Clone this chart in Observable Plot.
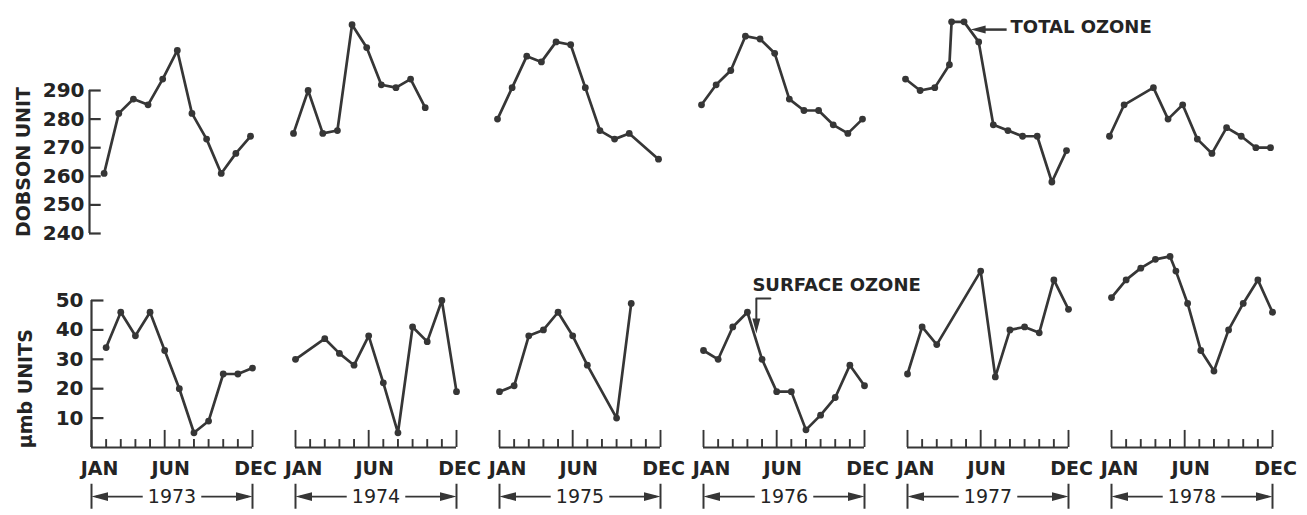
<!DOCTYPE html>
<html><head><meta charset="utf-8">
<script src="https://cdn.jsdelivr.net/npm/d3@7"></script>
<script src="https://cdn.jsdelivr.net/npm/@observablehq/plot@0.6"></script>
<style>body{margin:0;background:#fff;} #chart svg{display:block}</style>
</head><body><div id="chart"></div>
<script>
// ---- data ----
const years = [1973, 1974, 1975, 1976, 1977, 1978];

// Total ozone (Dobson units): month index (0 = Jan) and value
const totalMonths = [
  [1,2,3,4,5,6,7,8,9,10,11],
  [0,1,2,3,4,5,6,7,8,9],
  [0,1,2,3,4,5,6,7,8,9,11],
  [0,1,2,3,4,5,6,7,8,9,10,11],
  [0,1,2,3,3.15,4,5,6,7,8,9,10,11],
  [0,1,3,4,5,6,7,8,9,10,11]
];
const totalValues = [
  [261, 282, 287, 285, 294, 304, 282, 273, 261, 268, 274],
  [275, 290, 275, 276, 313, 305, 292, 291, 294, 284],
  [280, 291, 302, 300, 307, 306, 291, 276, 273, 275, 266],
  [285, 292, 297, 309, 308, 303, 287, 283, 283, 278, 275, 280],
  [294, 290, 291, 299, 314, 314, 307, 278, 276, 274, 274, 258, 269],
  [274, 285, 291, 280, 285, 273, 268, 277, 274, 270, 270]
];

// Surface ozone (µmb units)
const surfaceMonths = [
  [1,2,3,4,5,6,7,8,9,10,11],
  [0,2,3,4,5,6,7,8,9,10,11],
  [0,1,2,3,4,5,6,8,9],
  [0,1,2,3,4,5,6,7,8,9,10,11],
  [0,1,2,5,6,7,8,9,10,11],
  [0,1,2,3,4,4.4,5.2,6.1,7,8,9,10,11]
];
const surfaceValues = [
  [34, 46, 38, 46, 33, 20, 5, 9, 25, 25, 27],
  [30, 37, 32, 28, 38, 22, 5, 41, 36, 50, 19],
  [19, 21, 38, 40, 46, 38, 28, 10, 49],
  [33, 30, 41, 46, 30, 19, 19, 6, 11, 17, 28, 21],
  [25, 41, 35, 60, 24, 40, 41, 39, 57, 47],
  [51, 57, 61, 64, 65, 60, 49, 33, 26, 40, 49, 57, 46]
];

const totalTicks = [240, 250, 260, 270, 280, 290];
const surfaceTicks = [10, 20, 30, 40, 50];
const monthTicks = [0,1,2,3,4,5,6,7,8,9,10,11];
const majorMonths = [0, 5, 11];
const monthNames = ["JAN", "JUN", "DEC"];
const totalTitle = "DOBSON UNIT";
const surfaceTitle = "\u03bcmb UNITS";
const totalNote = "TOTAL OZONE";
const surfaceNote = "SURFACE OZONE";

// ---- derived tables ----
const totalRows = years.flatMap((year, i) => totalMonths[i].map((m, j) => ({year, month: m, value: totalValues[i][j]})));
const surfaceRows = years.flatMap((year, i) => surfaceMonths[i].map((m, j) => ({year, month: m, value: surfaceValues[i][j]})));
const firstYear = [{year: years[0]}];
const totalTickRows = totalTicks.map(v => ({year: years[0], v}));
const surfaceTickRows = surfaceTicks.map(v => ({year: years[0], v}));
const monthTickRows = years.flatMap(year => monthTicks.map(m => ({year, m, major: majorMonths.includes(m)})));
const yearRows = years.map(year => ({year}));

const ink = "#363636";
const txt = "#242424";
const font = "'DejaVu Sans', sans-serif";
const W = 1307;

// filled drafting arrowhead, tip at origin, pointing up
const head = {draw(ctx, size) {
  const r = Math.sqrt(size / Math.PI);
  ctx.moveTo(0, 0); ctx.lineTo(r * 0.8, r * 3); ctx.lineTo(-r * 0.8, r * 3); ctx.closePath();
}};

const fxOpts = {domain: years, paddingInner: 0.212, paddingOuter: 0, axis: null, label: null};

// ---- top: total ozone ----
const topPlot = Plot.plot({
  width: W, height: 245,
  marginLeft: 88.1, marginRight: 36.9, marginTop: 0, marginBottom: 0,
  style: {fontFamily: font, background: "white", display: "block"},
  fx: fxOpts,
  x: {domain: [0, 11], axis: null},
  y: {domain: [240, 290], range: [233, 90], axis: null},
  marks: [
    Plot.ruleX(firstYear, {fx: "year", x: 0, y1: 240, y2: 290, stroke: ink, strokeWidth: 2.2}),
    Plot.ruleY(totalTickRows, {fx: "year", y: "v", x1: 0, x2: 0.8, stroke: ink, strokeWidth: 2.2}),
    Plot.text(totalTickRows, {fx: "year", x: 0, y: "v", text: d => String(d.v), textAnchor: "end", dx: -5, fontSize: 20, fontWeight: "bold", fill: txt}),
    Plot.text(firstYear, {fx: "year", x: 0, y: 265, dx: -66, rotate: -90, text: () => totalTitle, fontSize: 19, fontWeight: "bold", fill: txt}),
    Plot.line(totalRows, {fx: "year", x: "month", y: "value", stroke: ink, strokeWidth: 2.7}),
    Plot.dot(totalRows, {fx: "year", x: "month", y: "value", r: 3.4, fill: ink}),
    // annotation
    Plot.text([{year: 1977}], {fx: "year", x: 7.18, y: 312, text: () => totalNote, textAnchor: "start", fontSize: 18, fontWeight: "bold", fill: txt}),
    Plot.link([{year: 1977}], {fx: "year", x1: 6.91, x2: 5.0, y1: 311.3, y2: 311.3, stroke: ink, strokeWidth: 2.5}),
    Plot.dot([{year: 1977}], {fx: "year", x: 4.45, y: 311.3, symbol: head, r: 5, rotate: -90, fill: ink})
  ]
});

// ---- bottom: surface ozone ----
const botPlot = Plot.plot({
  width: W, height: 270,
  marginLeft: 90.6, marginRight: 34.5, marginTop: 0, marginBottom: 0,
  style: {fontFamily: font, background: "white", display: "block"},
  fx: fxOpts,
  x: {domain: [0, 11], axis: null},
  y: {domain: [0, 50], range: [202, 55], axis: null},
  marks: [
    // y axis (first panel)
    Plot.ruleX(firstYear, {fx: "year", x: 0, y1: 0, y2: 50, stroke: ink, strokeWidth: 2.2}),
    Plot.ruleY(surfaceTickRows, {fx: "year", y: "v", x1: 0, x2: 0.85, stroke: ink, strokeWidth: 2.2}),
    Plot.text(surfaceTickRows, {fx: "year", x: 0, y: "v", text: d => String(d.v), textAnchor: "end", dx: -8, fontSize: 20, fontWeight: "bold", fill: txt}),
    Plot.text(firstYear, {fx: "year", x: 0, y: 20, dx: -66, rotate: -90, text: () => surfaceTitle, fontSize: 19, fontWeight: "bold", fill: txt}),
    // month axis in every panel
    Plot.ruleY([0], {stroke: ink, strokeWidth: 2.2}),
    Plot.ruleX(monthTickRows, {fx: "year", x: "m", y1: 0, y2: d => d.major ? 5.8 : 2.7, stroke: ink, strokeWidth: 1.9}),
    Plot.text(yearRows, {fx: "year", x: majorMonths[0], y: 0, dy: 21, dx: 8, text: () => monthNames[0], fontSize: 19, fontWeight: "bold", fill: txt}),
    Plot.text(yearRows, {fx: "year", x: majorMonths[1], y: 0, dy: 21, dx: 6, text: () => monthNames[1], fontSize: 19, fontWeight: "bold", fill: txt}),
    Plot.text(yearRows, {fx: "year", x: majorMonths[2], y: 0, dy: 21, dx: 3, text: () => monthNames[2], fontSize: 19, fontWeight: "bold", fill: txt}),
    // year brackets
    Plot.ruleX(yearRows, {fx: "year", x: 0, y1: -12.5, y2: -21, stroke: ink, strokeWidth: 2}),
    Plot.ruleX(yearRows, {fx: "year", x: 11, y1: -12.5, y2: -21, stroke: ink, strokeWidth: 2}),
    Plot.link(yearRows, {fx: "year", x1: 0.3, x2: 3.5, y1: -16.7, y2: -16.7, stroke: ink, strokeWidth: 1.8}),
    Plot.link(yearRows, {fx: "year", x1: 7.5, x2: 10.7, y1: -16.7, y2: -16.7, stroke: ink, strokeWidth: 1.8}),
    Plot.dot(yearRows, {fx: "year", x: 0, y: -16.7, symbol: head, r: 5.5, rotate: -90, fill: ink}),
    Plot.dot(yearRows, {fx: "year", x: 11, y: -16.7, symbol: head, r: 5.5, rotate: 90, fill: ink}),
    Plot.text(yearRows, {fx: "year", x: 5.5, y: -16.7, text: d => String(d.year), fontSize: 19, fill: txt}),
    // data
    Plot.line(surfaceRows, {fx: "year", x: "month", y: "value", stroke: ink, strokeWidth: 2.7}),
    Plot.dot(surfaceRows, {fx: "year", x: "month", y: "value", r: 3.4, fill: ink}),
    // annotation
    Plot.text([{year: 1976}], {fx: "year", x: 3.34, y: 55.1, text: () => surfaceNote, textAnchor: "start", fontSize: 18, fontWeight: "bold", fill: txt}),
    Plot.line([{year: 1976, m: 4.57, v: 50.7}, {year: 1976, m: 3.61, v: 50.7}, {year: 1976, m: 3.61, v: 42}], {fx: "year", x: "m", y: "v", stroke: ink, strokeWidth: 2}),
    Plot.dot([{year: 1976}], {fx: "year", x: 3.61, y: 38.8, symbol: head, r: 5, rotate: 180, fill: ink})
  ]
});

const root = document.getElementById("chart");
root.appendChild(topPlot);
root.appendChild(botPlot);
</script>
</body></html>
